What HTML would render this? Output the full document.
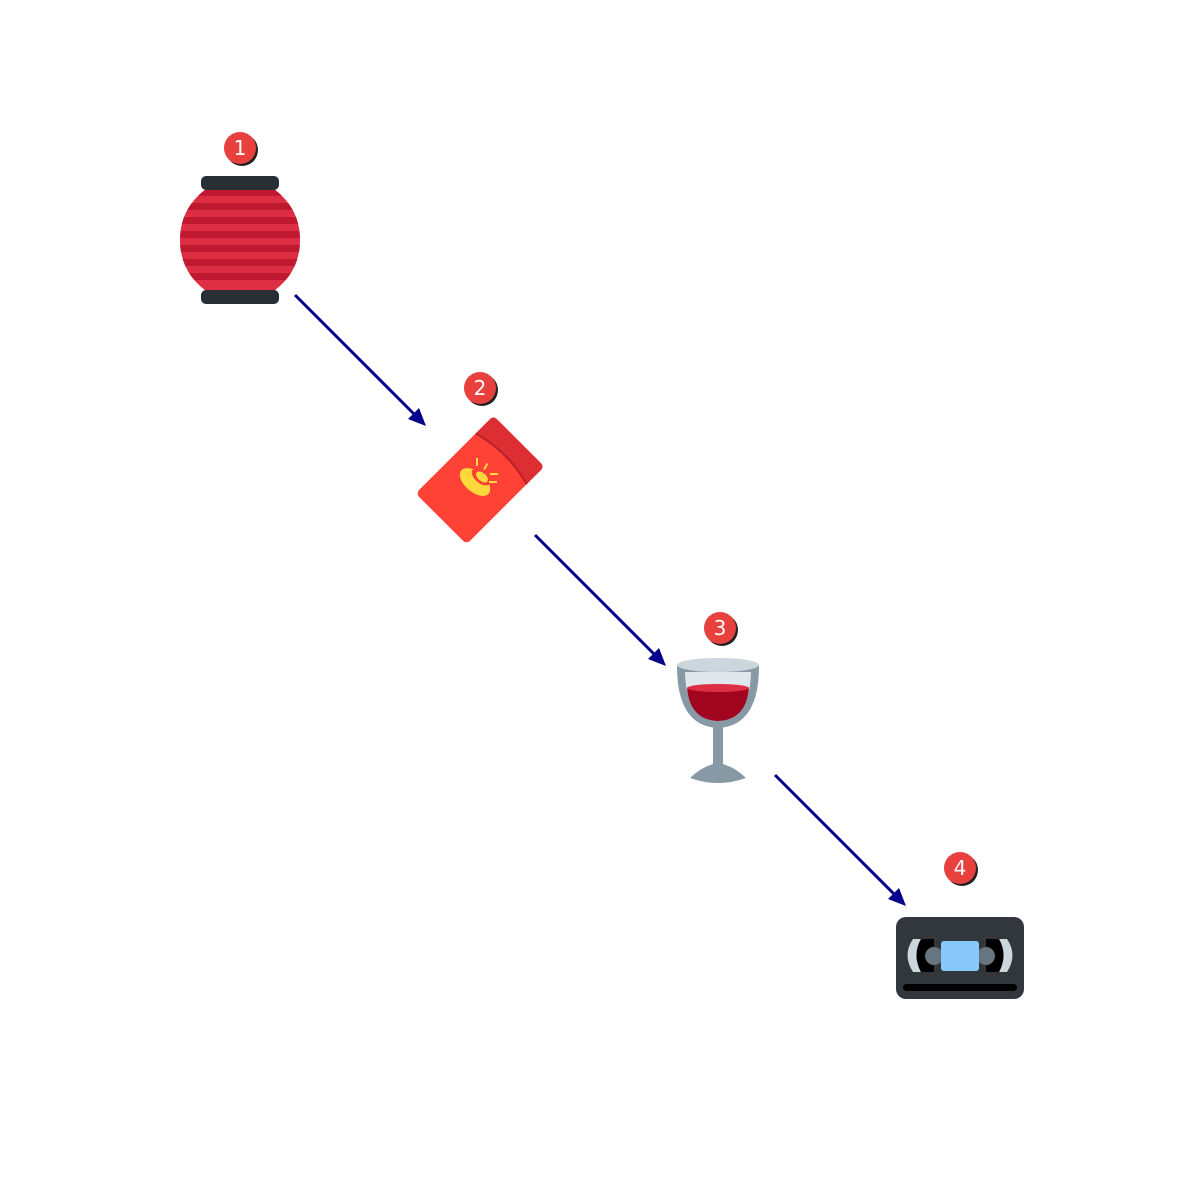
<!DOCTYPE html>
<html><head><style>html,body{margin:0;padding:0;background:#fff;overflow:hidden}svg{display:block}</style></head><body>
<svg width="1200" height="1200" viewBox="0 0 1200 1200" xmlns="http://www.w3.org/2000/svg">
<defs>
<clipPath id="lc"><path d="M212,185 L268,185 Q300,205 300,240 Q300,275 268,295 L212,295 Q180,275 180,240 Q180,205 212,185 Z"/></clipPath>
</defs>
<g stroke="#00008b" stroke-width="3">
<line x1="295" y1="295" x2="418" y2="418"/>
<line x1="535" y1="535" x2="658" y2="658"/>
<line x1="775" y1="775" x2="898" y2="898"/>
</g>
<g fill="#00008b">
<polygon points="426,426 408,419 419,408"/>
<polygon points="666,666 648,659 659,648"/>
<polygon points="906,906 888,899 899,888"/>
</g>
<!-- lantern -->
<g clip-path="url(#lc)">
<rect x="170" y="180" width="140" height="120" fill="#dd2e44"/>
<g fill="#be1931">
<rect x="170" y="189" width="140" height="7"/>
<rect x="170" y="203" width="140" height="7"/>
<rect x="170" y="217" width="140" height="7"/>
<rect x="170" y="231" width="140" height="7"/>
<rect x="170" y="245" width="140" height="7"/>
<rect x="170" y="259" width="140" height="7"/>
<rect x="170" y="273" width="140" height="7"/>
</g>
</g>
<rect x="201" y="176" width="78" height="14" rx="5" fill="#292f33"/>
<rect x="201" y="290" width="78" height="14" rx="5" fill="#292f33"/>
<!-- envelope -->
<g transform="translate(480,480) rotate(45)">
<rect x="-36" y="-55" width="72" height="110" rx="5" fill="#ff4136"/>
<path d="M-36,-50 Q-36,-55 -31,-55 L31,-55 Q36,-55 36,-50 L36,-30 Q0,-40 -36,-30 Z" fill="#dd2e34"/>
<path d="M-36,-30 Q0,-40 36,-30" fill="none" stroke="#b8212a" stroke-width="2"/>
</g>
<g fill="#ffd93b">
<ellipse cx="475" cy="482" rx="18" ry="10" transform="rotate(40 475 482)"/>
<ellipse cx="481" cy="477" rx="11" ry="6" fill="#ff4136" transform="rotate(40 481 477)"/>
<ellipse cx="482" cy="477" rx="7" ry="4" transform="rotate(40 482 477)"/>
<rect x="476" y="458" width="2" height="8"/>
<rect x="485" y="463" width="2" height="7" transform="rotate(30 486 466)"/>
<rect x="490" y="473" width="8" height="2"/>
<rect x="489" y="481" width="8" height="2"/>
</g>
<!-- glass -->
<path d="M677,666 Q677,726 718,728 Q759,726 759,666 Z" fill="#8899a6"/>
<ellipse cx="718" cy="665" rx="41" ry="7" fill="#ccd6dd"/>
<path d="M685,672 Q686,720 718,721 Q750,720 751,672 Z" fill="#e1e8ed"/>
<path d="M687,688 Q690,720 718,721 Q746,720 749,688 Q718,682 687,688 Z" fill="#a0041e"/>
<ellipse cx="718" cy="688" rx="31" ry="4" fill="#dd2e44"/>
<rect x="713" y="724" width="10" height="46" fill="#8899a6"/>
<path d="M690,778 Q700,768 713,764 L723,764 Q736,768 746,778 Q718,788 690,778 Z" fill="#8899a6"/>
<!-- VHS -->
<rect x="896" y="917" width="128" height="82" rx="10" fill="#31373d"/>
<path d="M913,939 Q902,955 913,972 L921,972 Q912,955 921,939 Z" fill="#ccd6dd"/>
<path d="M1007,939 Q1018,955 1007,972 L999,972 Q1008,955 999,939 Z" fill="#ccd6dd"/>
<path d="M921,939 L934,939 L934,972 L921,972 Q912,955 921,939 Z" fill="#000"/>
<path d="M999,939 L986,939 L986,972 L999,972 Q1008,955 999,939 Z" fill="#000"/>
<circle cx="934" cy="956" r="9" fill="#66757f"/>
<circle cx="986" cy="956" r="9" fill="#66757f"/>
<rect x="941" y="941" width="38" height="30" rx="3" fill="#88c9f9"/>
<rect x="903" y="984" width="114" height="7" rx="3.5" fill="#000"/>
<!-- badges -->
<g font-family="DejaVu Sans, sans-serif" font-size="20" fill="#fff" text-anchor="middle">
<circle cx="242" cy="150" r="16" fill="#222"/><circle cx="240" cy="148" r="16" fill="#e8403c"/><text x="240" y="155">1</text>
<circle cx="482" cy="390" r="16" fill="#222"/><circle cx="480" cy="388" r="16" fill="#e8403c"/><text x="480" y="395">2</text>
<circle cx="722" cy="630" r="16" fill="#222"/><circle cx="720" cy="628" r="16" fill="#e8403c"/><text x="720" y="635">3</text>
<circle cx="962" cy="870" r="16" fill="#222"/><circle cx="960" cy="868" r="16" fill="#e8403c"/><text x="960" y="875">4</text>
</g>
</svg>
</body></html>
